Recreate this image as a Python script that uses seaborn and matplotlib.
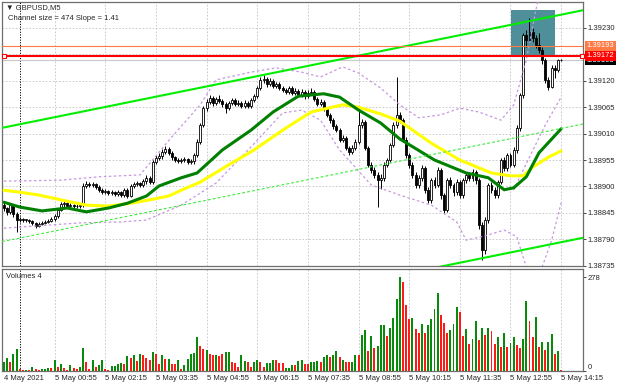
import numpy as np
import pandas as pd
import matplotlib
matplotlib.use("Agg")
import matplotlib.pyplot as plt
import matplotlib.transforms as mtransforms
from matplotlib.patches import Rectangle
import seaborn as sns

# prices are kept in points above 1.38000 (1 point = 0.00001)
BASE = 1.38

open_pts = [
    861, 855, 847, 861, 843, 830, 832, 830, 830, 828,
    824, 818, 822, 824, 826, 828, 832, 838, 851, 863,
    865, 859, 861, 859, 859, 861, 901, 905, 903, 905,
    899, 893, 888, 890, 886, 888, 884, 888, 882, 893,
    880, 901, 905, 907, 903, 911, 918, 909, 951, 959,
    963, 972, 978, 970, 961, 955, 953, 955, 957, 951,
    953, 965, 993, 1028, 1063, 1076, 1084, 1074, 1082, 1078,
    1072, 1063, 1074, 1080, 1072, 1074, 1068, 1074, 1068, 1080,
    1088, 1105, 1122, 1124, 1113, 1120, 1109, 1113, 1105, 1101,
    1097, 1105, 1095, 1099, 1090, 1097, 1088, 1095, 1097, 1082,
    1072, 1076, 1063, 1049, 1038, 1026, 1018, 997, 1001, 980,
    972, 980, 993, 1028, 1034, 980, 945, 934, 924, 913,
    918, 945, 955, 986, 1028, 1049, 1038, 997, 965, 945,
    924, 903, 918, 938, 893, 872, 913, 903, 934, 882,
    851, 913, 903, 888, 909, 882, 913, 924, 918, 930,
    913, 820, 768, 830, 903, 893, 882, 909, 955, 938,
    965, 945, 976, 1022, 1090, 1215, 1205, 1222, 1209, 1195,
    1184, 1163, 1122, 1107, 1147, 1142, 1163,
]
close_pts = [
    855, 847, 861, 843, 830, 832, 830, 830, 828, 824,
    818, 822, 824, 826, 828, 832, 838, 851, 863, 865,
    859, 861, 859, 859, 861, 901, 905, 903, 905, 899,
    893, 888, 890, 886, 888, 884, 888, 882, 893, 880,
    901, 905, 907, 903, 911, 918, 909, 951, 959, 963,
    972, 978, 970, 961, 955, 953, 955, 957, 951, 953,
    965, 993, 1028, 1063, 1076, 1084, 1074, 1082, 1078, 1072,
    1063, 1074, 1080, 1072, 1074, 1068, 1074, 1068, 1080, 1088,
    1105, 1122, 1124, 1113, 1120, 1109, 1113, 1105, 1101, 1097,
    1105, 1095, 1099, 1090, 1097, 1088, 1095, 1097, 1082, 1072,
    1076, 1063, 1049, 1038, 1026, 1018, 997, 1001, 980, 972,
    980, 993, 1028, 1034, 980, 945, 934, 924, 913, 918,
    945, 955, 986, 1028, 1049, 1038, 997, 965, 945, 924,
    903, 918, 938, 893, 872, 913, 903, 934, 882, 851,
    913, 903, 888, 909, 882, 913, 924, 918, 930, 913,
    820, 768, 830, 903, 893, 882, 909, 955, 938, 965,
    945, 976, 1022, 1090, 1215, 1205, 1222, 1209, 1195, 1184,
    1163, 1122, 1107, 1147, 1142, 1163, 1163,
]
high_pts = [
    866, 858, 866, 864, 846, 836, 835, 833, 833, 831,
    826, 825, 828, 830, 832, 836, 842, 855, 868, 870,
    868, 865, 864, 863, 865, 907, 911, 909, 909, 908,
    902, 896, 894, 893, 892, 891, 892, 891, 897, 896,
    905, 910, 912, 910, 916, 924, 921, 956, 965, 970,
    977, 984, 982, 973, 964, 959, 960, 962, 960, 958,
    970, 998, 1033, 1068, 1082, 1090, 1088, 1087, 1090, 1082,
    1075, 1078, 1085, 1084, 1079, 1078, 1079, 1078, 1085, 1093,
    1110, 1128, 1132, 1128, 1126, 1124, 1118, 1117, 1109, 1106,
    1110, 1109, 1104, 1103, 1102, 1101, 1100, 1104, 1101, 1086,
    1082, 1080, 1066, 1052, 1042, 1030, 1022, 1007, 1005, 985,
    986, 998, 1059, 1040, 1038, 984, 950, 940, 930, 925,
    950, 960, 991, 1034, 1128, 1055, 1043, 1002, 970, 950,
    930, 924, 944, 942, 898, 918, 920, 940, 938, 886,
    918, 920, 908, 915, 914, 918, 930, 930, 936, 934,
    918, 826, 836, 908, 910, 898, 914, 960, 962, 970,
    970, 982, 1028, 1095, 1220, 1226, 1251, 1230, 1215, 1220,
    1190, 1168, 1128, 1152, 1152, 1166, 1165,
]
low_pts = [
    848, 840, 843, 836, 805, 826, 826, 826, 824, 820,
    814, 815, 819, 821, 823, 825, 829, 835, 848, 858,
    855, 855, 855, 855, 855, 858, 897, 899, 899, 895,
    888, 884, 884, 882, 882, 880, 880, 878, 878, 876,
    877, 897, 900, 898, 899, 906, 904, 905, 946, 954,
    958, 967, 965, 956, 950, 948, 949, 951, 946, 947,
    947, 961, 988, 1024, 1058, 1071, 1068, 1069, 1073, 1066,
    1053, 1059, 1070, 1067, 1068, 1063, 1064, 1063, 1064, 1076,
    1084, 1100, 1116, 1108, 1109, 1104, 1104, 1100, 1096, 1092,
    1093, 1090, 1090, 1086, 1086, 1083, 1084, 1091, 1078, 1067,
    1068, 1058, 1044, 1033, 1020, 1013, 992, 992, 975, 966,
    968, 976, 989, 1022, 975, 940, 928, 918, 857, 895,
    912, 940, 950, 982, 1022, 1032, 992, 960, 938, 918,
    896, 896, 912, 886, 865, 866, 897, 898, 874, 844,
    846, 896, 880, 882, 875, 876, 907, 912, 912, 906,
    812, 747, 760, 824, 886, 876, 876, 904, 932, 932,
    940, 940, 970, 1016, 1085, 1190, 1198, 1200, 1188, 1178,
    1155, 1116, 1100, 1104, 1126, 1138, 1161,
]
volumes = [
    26, 38, 28, 50, 65, 6, 2, 2, 4, 11,
    7, 4, 6, 7, 9, 8, 33, 13, 20, 8,
    3, 18, 8, 7, 13, 68, 28, 6, 34, 12,
    18, 34, 6, 3, 16, 16, 20, 25, 20, 43,
    38, 46, 31, 50, 48, 38, 33, 55, 50, 22,
    48, 36, 36, 21, 21, 33, 6, 18, 35, 50,
    52, 100, 73, 66, 63, 50, 46, 48, 43, 50,
    55, 56, 28, 25, 13, 48, 30, 28, 11, 26,
    33, 28, 13, 23, 25, 33, 33, 23, 23, 8,
    8, 18, 17, 30, 33, 20, 20, 26, 26, 30,
    26, 42, 46, 40, 46, 58, 40, 33, 26, 28,
    28, 46, 46, 106, 120, 60, 104, 68, 73, 136,
    136, 104, 126, 158, 213, 278, 263, 196, 153, 158,
    125, 112, 138, 113, 135, 153, 182, 232, 165, 142,
    113, 122, 138, 188, 174, 104, 124, 81, 94, 148,
    91, 128, 107, 128, 117, 80, 100, 72, 113, 70,
    84, 101, 77, 68, 96, 206, 148, 102, 161, 70,
    86, 63, 86, 110, 50, 60, 4,
]
# g = volume bar drawn green, r = red
vol_dirs = ("ggrggrrgrg" "rrgggrgrgr" "rgrrggrrgr" "ggrrggggrg" "rgrgrrrgrr"
            "grgrrgrggg" "ggrrgrrgrr" "ggrrrggrrg" "grrgggrrrg" "ggr"
            "ggrrggg" "rggrggrgrr" "ggrggrgrgg" "grggggrrrg" "rrgrggggrr"
            "rgggrrgrgg" "rgrgrrgrgr" "ggrrggrrgr" "grggrgr")

# moving averages (bar index, points)
yellow_x = [0, 5, 11, 18, 26, 33, 40, 46, 52, 57, 62, 71, 79, 88, 97, 107, 112,
            119, 125, 135, 144, 154, 160, 164, 167, 172, 176]
yellow_pts = [892, 888, 882, 872, 861, 859, 865, 872, 880, 895, 909, 945, 976, 1017,
              1055, 1070, 1065, 1051, 1036, 990, 955, 928, 922, 922, 940, 961, 974]
green_x = [0, 5, 12, 20, 26, 33, 39, 45, 49, 56, 61, 69, 78, 85, 93, 101, 106, 112,
           119, 125, 136, 146, 153, 158, 161, 165, 169, 176]
green_pts = [867, 857, 849, 855, 847, 855, 865, 880, 901, 918, 928, 976, 1017, 1055,
             1088, 1093, 1086, 1059, 1032, 999, 955, 928, 918, 893, 897, 920, 970, 1020]
upper_x = [0, 18, 30, 43, 53, 62, 67, 78, 86, 94, 100, 107, 112, 119, 125, 131, 138,
           144, 150, 157, 161, 165, 168, 171]
upper_pts = [911, 913, 920, 924, 1003, 1070, 1122, 1138, 1147, 1138, 1128, 1149, 1136,
             1105, 1070, 1043, 1049, 1063, 1055, 1038, 1070, 1163, 1267, 1351]
lower_x = [0, 11, 24, 37, 45, 56, 67, 78, 88, 94, 100, 106, 116, 125, 135, 143, 146,
           152, 158, 162, 165, 168]
lower_pts = [813, 818, 824, 826, 830, 861, 907, 982, 1053, 1059, 1038, 976, 903, 882,
             861, 826, 788, 797, 809, 795, 732, 684]
env_a_x = [161, 166, 171, 176]
env_a_pts = [893, 961, 1028, 1086]
env_b_x = [170, 173, 176]
env_b_pts = [732, 788, 866]

# linear regression channel
channel_x = [-0.6, 182.9]
channel_top = [1.39022, 1.39267]
channel_size = 0.00474

level_orange = 1.39193
level_red = 1.39172
bid = 1.39163
rect_x0, rect_x1 = 160.2, 174.1
rect_lo, rect_hi = 1.39172, 1.39268

price_ticks = [1.38735, 1.38790, 1.38845, 1.38900, 1.38955, 1.39010, 1.39065,
               1.39120, 1.39175, 1.39230]
time_ticks = [0, 16, 32, 48, 64, 80, 96, 112, 128, 144, 160, 176]
time_labels = ["4 May 2021", "5 May 00:55", "5 May 02:15", "5 May 03:35",
               "5 May 04:55", "5 May 06:15", "5 May 07:35", "5 May 08:55",
               "5 May 10:15", "5 May 11:35", "5 May 12:55", "5 May 14:15"]

sns.set_style("white")
plt.rcParams['font.family'] = ['Liberation Sans', 'DejaVu Sans']
FS = 5.5

fig = plt.figure(figsize=(6.2, 3.88), dpi=100)
ax = fig.add_axes([0.0032, 0.3144, 0.9371, 0.6804])
axv = fig.add_axes([0.0032, 0.0438, 0.9371, 0.2629])

def to_price(pts):
    return BASE + np.array(pts) / 1e5

idx = np.arange(len(close_pts))
o, c = to_price(open_pts), to_price(close_pts)
h, l = to_price(high_pts), to_price(low_pts)

# grid + separators
grid_kw = dict(color='#c4c4c4', lw=0.6, ls=(0, (2, 2)))
for a in (ax, axv):
    for t in time_ticks[1:]:
        a.axvline(t, zorder=0.5, **grid_kw)
    a.axvline(5, color='black', lw=0.7, ls=(0, (1.2, 1.5)), zorder=0.6)
for p in price_ticks:
    ax.axhline(p, zorder=0.5, **grid_kw)

ax.add_patch(Rectangle((rect_x0, rect_lo), rect_x1 - rect_x0, rect_hi - rect_lo,
                       fc='#4f8f99', ec='none', zorder=1.5))

# candles
up = c >= o
body_lo = np.minimum(o, c)
body_h = np.maximum(np.abs(c - o), 0.000012)
ax.vlines(idx, l, h, color='black', lw=0.7, zorder=4)
ax.bar(idx[up], body_h[up], bottom=body_lo[up], width=0.62, color='white',
       edgecolor='black', linewidth=0.6, zorder=5)
ax.bar(idx[~up], body_h[~up], bottom=body_lo[~up], width=0.62, color='black',
       edgecolor='black', linewidth=0.6, zorder=5)

# bands and moving averages
band_kw = dict(color='#c597e0', linewidth=0.9, linestyle=(0, (2, 2)), legend=False,
               sort=False, zorder=6)
for bx, by in [(upper_x, upper_pts), (lower_x, lower_pts), (env_a_x, env_a_pts),
               (env_b_x, env_b_pts)]:
    sns.lineplot(x=bx, y=to_price(by), ax=ax, **band_kw)
sns.lineplot(x=yellow_x, y=to_price(yellow_pts), ax=ax, color='#ffff00',
             linewidth=2.2, legend=False, sort=False, zorder=6)
sns.lineplot(x=green_x, y=to_price(green_pts), ax=ax, color='#008000',
             linewidth=2.2, legend=False, sort=False, zorder=6)

# channel
top = np.array(channel_top)
ax.plot(channel_x, top, color='#00ee00', lw=1.5, zorder=7)
ax.plot(channel_x, top - channel_size, color='#00ee00', lw=1.5, zorder=7)
ax.plot(channel_x, top - channel_size / 2, color='#33ee33', lw=0.8,
        ls=(0, (2.5, 2)), zorder=7)

# levels
ax.axhline(bid, color='#c8c8c8', lw=0.8, zorder=2)
ax.axhline(level_orange, color='#ff7a45', lw=0.8, zorder=7)
ax.axhline(level_red, color='#ff0000', lw=1.5, zorder=7)
ax.plot([0, 182.6], [level_red, level_red], ls='none', marker='s', ms=3,
        mfc='white', mec='#ff0000', mew=0.8, zorder=8, clip_on=False)

ax.set_xlim(-0.63, 182.9)
ax.set_ylim(1.387342, 1.392841)
ax.yaxis.tick_right()
ax.set_yticks(price_ticks)
ax.set_yticklabels([f"{p:.5f}" if p != 1.39175 else "" for p in price_ticks])
ax.set_xticks([])
ax.tick_params(axis='y', length=2, pad=1.5, labelsize=FS, width=0.6)

trans = mtransforms.blended_transform_factory(ax.transAxes, ax.transData)
for val, fc in [(bid, 'black'), (level_orange, '#ff7a45'), (level_red, '#ff0000')]:
    ax.text(1.006, val, f"{val:.5f}", transform=trans, fontsize=FS, color='white',
            va='center', ha='left', clip_on=False, zorder=20,
            bbox=dict(boxstyle='square,pad=0.22', fc=fc, ec='none'))

# volumes
vol_df = pd.DataFrame({'bar': idx, 'volume': volumes, 'dir': list(vol_dirs)})
sns.barplot(data=vol_df, x='bar', y='volume', hue='dir',
            palette={'g': '#0a8a0a', 'r': '#ff1a1a'}, native_scale=True,
            dodge=False, width=0.62, errorbar=None, saturation=1, linewidth=0,
            legend=False, ax=axv, zorder=3)
axv.set_xlim(-0.63, 182.9)
axv.set_ylim(0, 301.7)
axv.set_xlabel("")
axv.set_ylabel("")
axv.yaxis.tick_right()
axv.set_yticks([0, 278])
axv.set_yticklabels(["0", "278"])
for lab in axv.get_yticklabels():
    if lab.get_text() == "0":
        lab.set_va('bottom')
axv.set_xticks(time_ticks)
axv.set_xticklabels(time_labels, ha='left')
axv.tick_params(axis='both', length=2, pad=1.2, labelsize=FS, width=0.6)

for a in (ax, axv):
    for s in a.spines.values():
        s.set_color('#6e6e6e')
        s.set_linewidth(0.9)

fig.text(6 / 620, 1 - 7.5 / 388, "\u25bc GBPUSD,M5", fontsize=FS, va='center')
fig.text(8 / 620, 1 - 18 / 388, "Channel size = 474 Slope = 1.41", fontsize=FS,
         va='center')
fig.text(6 / 620, 1 - 277 / 388, "Volumes 4", fontsize=FS, va='center')

fig.savefig("out.png", dpi=100)
